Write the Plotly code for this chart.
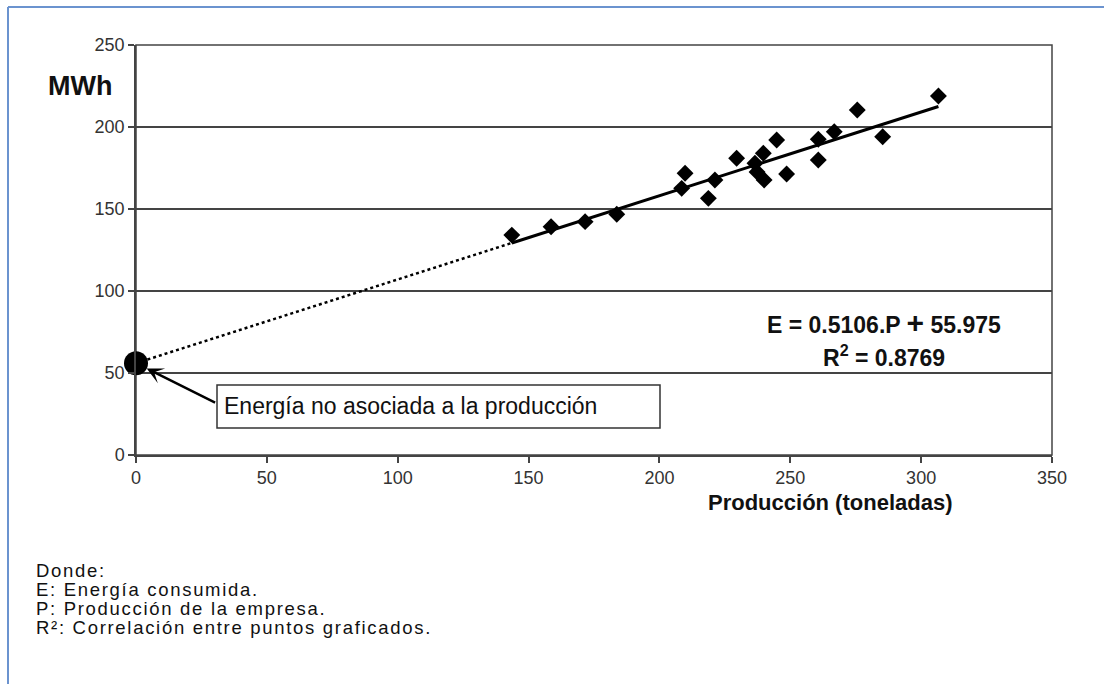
import plotly.graph_objects as go

# Data
produccion = [143.6, 158.6, 171.6, 183.7, 208.5, 209.8, 218.7, 221.2, 229.5, 236.5,
              239.7, 244.8, 237.3, 240.0, 248.6, 260.7, 260.7, 266.8, 275.6, 285.3, 306.6]
energia = [134.1, 139.2, 142.3, 146.8, 162.6, 171.8, 156.5, 167.7, 180.9, 177.9,
           184.0, 192.1, 172.6, 167.7, 171.3, 192.5, 179.9, 197.1, 210.4, 194.1, 218.9]
pendiente = 0.5106
intercepto = 55.975
r2 = 0.8769
x_ticks = [0, 50, 100, 150, 200, 250, 300, 350]
y_ticks = [0, 50, 100, 150, 200, 250]
notas = ["Donde:", "E: Energía consumida.", "P: Producción de la empresa.",
         "R²: Correlación entre puntos graficados."]

FONT = "Liberation Sans, Arial, sans-serif"
xmin, xmax = min(produccion), max(produccion)

fig = go.Figure()
# dotted extrapolation
fig.add_trace(go.Scatter(x=[0, xmin], y=[intercepto, intercepto + pendiente * xmin],
                         mode="lines", line=dict(color="black", width=2.5, dash="dot"),
                         hoverinfo="skip", cliponaxis=False))
# solid trendline
fig.add_trace(go.Scatter(x=[xmin, xmax],
                         y=[intercepto + pendiente * xmin, intercepto + pendiente * xmax],
                         mode="lines", line=dict(color="black", width=3), hoverinfo="skip"))
# data points
fig.add_trace(go.Scatter(x=produccion, y=energia, mode="markers",
                         marker=dict(symbol="diamond", size=13, color="black"),
                         cliponaxis=False))
# intercept point
fig.add_trace(go.Scatter(x=[0], y=[intercepto], mode="markers",
                         marker=dict(symbol="circle", size=24, color="black"),
                         cliponaxis=False))

def px_x(p):
    return (p - 136) / 916.0

def px_y(p):
    return (455 - p) / 410.0

annotations = [
    dict(x=0, y=intercepto, xref="x", yref="y", ax=30.8, ay=31.5, axref="x", ayref="y",
         showarrow=True, arrowhead=3, arrowsize=1.1, arrowwidth=2.5, arrowcolor="black",
         standoff=12, text=""),
    dict(x=px_x(222), y=px_y(406), xref="paper", yref="paper", xanchor="left", yanchor="middle",
         text="Energía no asociada a la producción", showarrow=False,
         font=dict(family=FONT, size=23, color="#111")),
    dict(x=px_x(765), y=px_y(322), xref="paper", yref="paper", xanchor="left", yanchor="middle",
         text=f"<b>E = {pendiente}.P <span style='font-size:30px'>+</span> {intercepto}</b>",
         showarrow=False, font=dict(family=FONT, size=23, color="#111")),
    dict(x=px_x(821), y=px_y(356), xref="paper", yref="paper", xanchor="left", yanchor="middle",
         text=f"<b>R<sup>2</sup> = {r2}</b>", showarrow=False,
         font=dict(family=FONT, size=23, color="#111")),
    dict(x=px_x(46), y=px_y(86), xref="paper", yref="paper", xanchor="left", yanchor="middle",
         text="<b>MWh</b>", showarrow=False, font=dict(family=FONT, size=27, color="#111")),
    dict(x=px_x(706), y=px_y(502), xref="paper", yref="paper", xanchor="left", yanchor="middle",
         text="<b>Producción (toneladas)</b>", showarrow=False,
         font=dict(family=FONT, size=22, color="#111")),
]
note_y = [570, 589, 608, 627]
for t, yy in zip(notas, note_y):
    annotations.append(dict(x=px_x(34), y=px_y(yy), xref="paper", yref="paper",
                            xanchor="left", yanchor="middle",
                            text=f"<span style='letter-spacing:1.7px'>{t}</span>",
                            showarrow=False,
                            font=dict(family=FONT, size=18.5, color="#111")))

shapes = [
    # annotation box
    dict(type="rect", xref="paper", yref="paper", x0=px_x(217), x1=px_x(660),
         y0=px_y(428), y1=px_y(385), line=dict(color="#333", width=1.5), fillcolor="white",
         layer="above"),
    # outer blue frame (top and left)
    dict(type="line", xref="paper", yref="paper", x0=px_x(8), x1=px_x(1110),
         y0=px_y(7), y1=px_y(7), line=dict(color="#6b93cf", width=2)),
    dict(type="line", xref="paper", yref="paper", x0=px_x(8), x1=px_x(8),
         y0=px_y(7), y1=px_y(690), line=dict(color="#6b93cf", width=2)),
    # plot area frame
    dict(type="rect", xref="paper", yref="paper", x0=0, x1=1, y0=0, y1=1,
         line=dict(color="#444", width=1.5), layer="below"),
]

fig.update_layout(
    width=1104, height=684,
    margin=dict(l=136, r=52, t=45, b=229),
    paper_bgcolor="white", plot_bgcolor="white",
    showlegend=False,
    annotations=annotations, shapes=shapes,
    font=dict(family=FONT, size=18, color="#333"),
    xaxis=dict(range=[0, 350], tickvals=x_ticks, showgrid=False, zeroline=False,
               showline=True, linecolor="#444", linewidth=1.5, ticks="outside",
               ticklen=6, tickcolor="#444", tickwidth=1.5,
               tickfont=dict(family=FONT, size=18, color="#333"), fixedrange=True),
    yaxis=dict(range=[0, 250], tickvals=y_ticks, showgrid=True, gridcolor="#444",
               gridwidth=1.5, zeroline=False, showline=True, linecolor="#444",
               linewidth=1.5, ticks="outside", ticklen=6, tickcolor="#444", tickwidth=1.5,
               tickfont=dict(family=FONT, size=18, color="#333"), fixedrange=True),
)

fig.write_html("out.html", config={"displayModeBar": False},
               post_script="document.body.style.margin='0px';")
